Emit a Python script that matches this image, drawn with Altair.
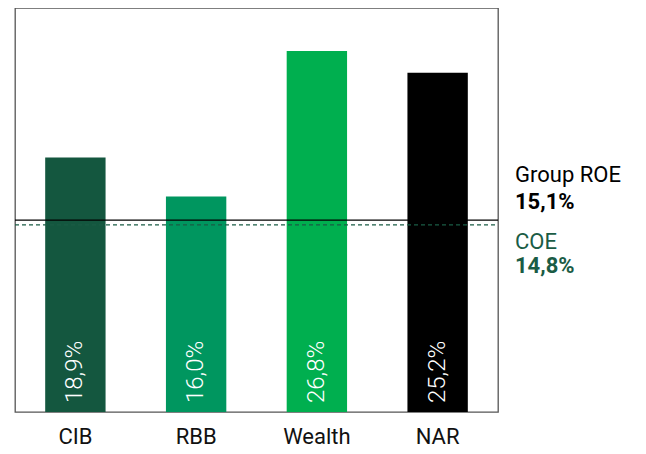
import altair as alt
import pandas as pd

categories = ["CIB", "RBB", "Wealth", "NAR"]
roe_values = [18.9, 16.0, 26.8, 25.2]
roe_labels = ["18,9%", "16,0%", "26,8%", "25,2%"]
bar_colors = ["#14573f", "#00965f", "#00af4f", "#000000"]

# reference lines as drawn in the picture, and their annotation texts
line_names = ["Group ROE", "COE"]
line_positions = [14.25, 13.9]
line_value_labels = ["15,1%", "14,8%"]
line_colors = ["#000000", "#1a5c45"]

W, H = 483, 404
FONT = "Roboto"

df = pd.DataFrame({"cat": categories, "v": roe_values, "lab": roe_labels,
                   "color": bar_colors, "base": [0] * 4})
lines = pd.DataFrame({"name": line_names, "pos": line_positions,
                      "vlab": line_value_labels, "color": line_colors})
roe = lines[lines.name == "Group ROE"]
coe = lines[lines.name == "COE"]

x = alt.X("cat:N", sort=categories,
          scale=alt.Scale(paddingInner=0.5, paddingOuter=0.25),
          axis=alt.Axis(title=None, labelAngle=0, ticks=False, domain=False,
                        labelFont=FONT, labelFontSize=22, labelColor="#111",
                        labelPadding=14))
yscale = alt.Scale(domain=[0, 30], nice=False)

bars = alt.Chart(df).mark_bar().encode(
    x=x,
    y=alt.Y("v:Q", scale=yscale, axis=None),
    color=alt.Color("color:N", scale=None),
)

bar_text = alt.Chart(df).mark_text(
    angle=270, align="left", baseline="middle", dx=9,
    font=FONT, fontSize=24, fontWeight=300, color="white"
).encode(x=alt.X("cat:N", sort=categories), y=alt.Y("base:Q", scale=yscale), text="lab:N")

roe_line = alt.Chart(roe).mark_rule(
    color="#000000", strokeWidth=1.2
).encode(y=alt.Y("pos:Q", scale=yscale), x=alt.value(0), x2=alt.value(W))

coe_line = alt.Chart(coe).mark_rule(
    color="#1a5c45", strokeWidth=1.2, strokeDash=[4, 3]
).encode(y=alt.Y("pos:Q", scale=yscale), x=alt.value(0), x2=alt.value(W))


def label(data, field, dy, bold):
    return alt.Chart(data).mark_text(
        align="left", baseline="middle", font=FONT, fontSize=22,
        fontWeight="bold" if bold else "normal", dy=dy
    ).encode(
        x=alt.value(W + 17),
        y=alt.Y("pos:Q", scale=yscale),
        text=f"{field}:N",
        color=alt.Color("color:N", scale=None),
    )


texts = [
    label(roe, "name", -45, False),
    label(roe, "vlab", -18, True),
    label(coe, "name", 17, False),
    label(coe, "vlab", 41, True),
]

chart = alt.layer(bars, bar_text, roe_line, coe_line, *texts).properties(
    width=W, height=H, padding={"top": 0, "left": 6, "right": 5, "bottom": 5}
).configure_view(stroke="#555555", strokeWidth=1.3)

chart.save("out.html", embed_options={"renderer": "svg", "actions": False})
